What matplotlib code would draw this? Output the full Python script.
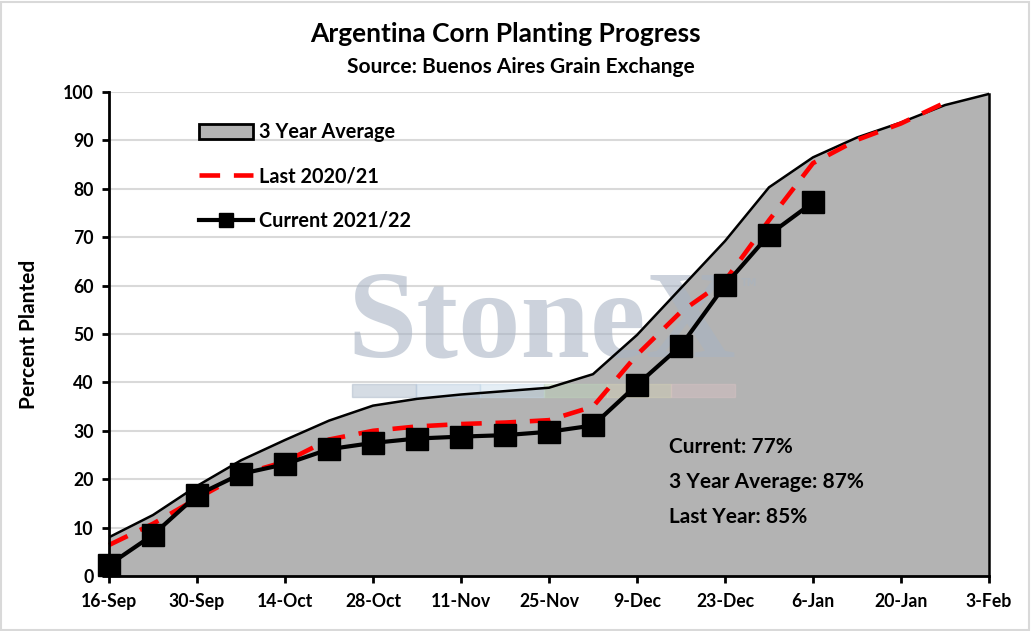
import matplotlib
matplotlib.use("Agg")
import matplotlib.pyplot as plt
from matplotlib.patches import Rectangle, Patch
from matplotlib.lines import Line2D
import pandas as pd

# ---- data ----
dates = pd.date_range("2021-09-16", "2022-02-03", freq="7D")
avg_3yr = [8.0, 12.6, 18.6, 23.9, 28.1, 32.1, 35.2, 36.6, 37.5, 38.2, 38.9,
           41.7, 49.8, 59.5, 69.2, 80.3, 86.5, 90.6, 93.7, 97.3, 99.6]
last_year = [6.4, 10.8, 16.0, 21.0, 23.6, 28.2, 30.0, 30.9, 31.4, 31.7, 32.2,
             35.0, 45.7, 54.6, 61.0, 73.5, 85.3, 90.1, 93.5, 97.8]
current = [2.3, 8.5, 16.7, 21.1, 23.1, 26.2, 27.5, 28.4, 28.8, 29.1, 29.8,
           31.1, 39.5, 47.6, 60.1, 70.5, 77.2]
tick_dates = pd.date_range("2021-09-16", "2022-02-03", freq="14D")
legend_labels = ["3 Year Average", "Last 2020/21", "Current 2021/22"]
annotations = ["Current: 77%", "3 Year Average: 87%", "Last Year: 85%"]

FONT = "Lato"
plt.rcParams["font.family"] = [FONT, "DejaVu Sans"]
plt.rcParams["font.weight"] = "bold"

fig = plt.figure(figsize=(10.31, 6.31), dpi=100)
ax = fig.add_axes([109/1031, 55/631, 880/1031, 484/631])

# gridlines
ax.set_axisbelow(True)
ax.yaxis.grid(True, color="#d9d9d9", linewidth=1.5, zorder=0)

# watermark (between the area fill and the lines)
wm_kw = dict(transform=fig.transFigure, zorder=2.3)
ax.text(0.526, 0.435, "StoneX", family="Liberation Serif", fontsize=90,
        color="#a7b3c3", alpha=0.58, ha="center", va="baseline", **wm_kw)
ax.text(0.719, 0.552, "TM", family="DejaVu Sans", fontsize=7,
        color="#a7b3c3", alpha=0.5, ha="left", va="center", **wm_kw)
stripe_cols = ["#a3b2c4", "#b4c8dc", "#c6dbea", "#bfd6bb", "#d6d2b6", "#d9c2c4"]
sx0, sw = 352/1031, (735-352)/1031/len(stripe_cols)
for i, c in enumerate(stripe_cols):
    ax.add_patch(Rectangle((sx0 + i*sw, (631-397)/631), sw, 13/631,
                           transform=fig.transFigure, color=c, alpha=0.45,
                           zorder=2.3, clip_on=False))

# 3 year average area
ax.fill_between(dates, avg_3yr, 0, facecolor="#b3b3b3", edgecolor="none",
                zorder=2)
ax.plot(dates, avg_3yr, color="black", linewidth=1.8, zorder=2.6)
ax.plot([dates[-1], dates[-1]], [avg_3yr[-1], 0], color="black",
        linewidth=1.8, zorder=2.6, clip_on=False)
# last year
ax.plot(dates[:len(last_year)], last_year, color="#ff0000", linewidth=3.3,
        dashes=(4.5, 3.0), zorder=3, clip_on=False)
# current
ax.plot(dates[:len(current)], current, color="black", linewidth=3.0,
        marker="s", markersize=16, zorder=4, clip_on=False)

ax.set_xlim(dates[0], dates[-1])
ax.set_ylim(0, 100)
ax.set_yticks(range(0, 101, 10))
ax.set_xticks(tick_dates)
ax.set_xticklabels([d.strftime("%-d-%b") for d in tick_dates])
for s in ["top", "right"]:
    ax.spines[s].set_visible(False)
for s in ["left", "bottom"]:
    ax.spines[s].set_linewidth(2)
    ax.spines[s].set_zorder(5)
ax.tick_params(axis="both", direction="out", length=5, width=2,
               labelsize=12.7)
ax.tick_params(axis="x", pad=7)
ax.tick_params(axis="y", pad=6)
for lab in ax.get_xticklabels() + ax.get_yticklabels():
    lab.set_fontweight("bold")

ax.set_ylabel("Percent Planted", fontsize=15, fontweight="bold", labelpad=17)

fig.text(0.49, 0.946, "Argentina Corn Planting Progress", ha="center", va="center",
         fontsize=19, fontweight="bold")
fig.text(0.505, 0.894, "Source: Buenos Aires Grain Exchange", ha="center", va="center",
         fontsize=15, fontweight="bold")

handles = [Patch(facecolor="#b3b3b3", edgecolor="black", linewidth=2),
           Line2D([], [], color="#ff0000", linewidth=3.3, dashes=(4.5, 3.0)),
           Line2D([], [], color="black", linewidth=3.0, marker="s", markersize=10)]
leg = ax.legend(handles, legend_labels, loc="upper left",
                bbox_to_anchor=(0.087, 0.966), frameon=False, fontsize=14.3,
                handlelength=2.7, handleheight=0.8, labelspacing=1.22,
                handletextpad=0.3, borderpad=0.2)
for t in leg.get_texts():
    t.set_fontweight("bold")

for i, txt in enumerate(annotations):
    fig.text(669/1031, 1 - (447 + 35*i)/631, txt, ha="left", va="center",
             fontsize=15, fontweight="bold", zorder=6)

fig.patches.append(Rectangle((0.001, 0.002), 0.997, 0.995, transform=fig.transFigure,
                             fill=False, edgecolor="#d9d9d9", linewidth=1.5))

fig.savefig("out.png", dpi=100)
